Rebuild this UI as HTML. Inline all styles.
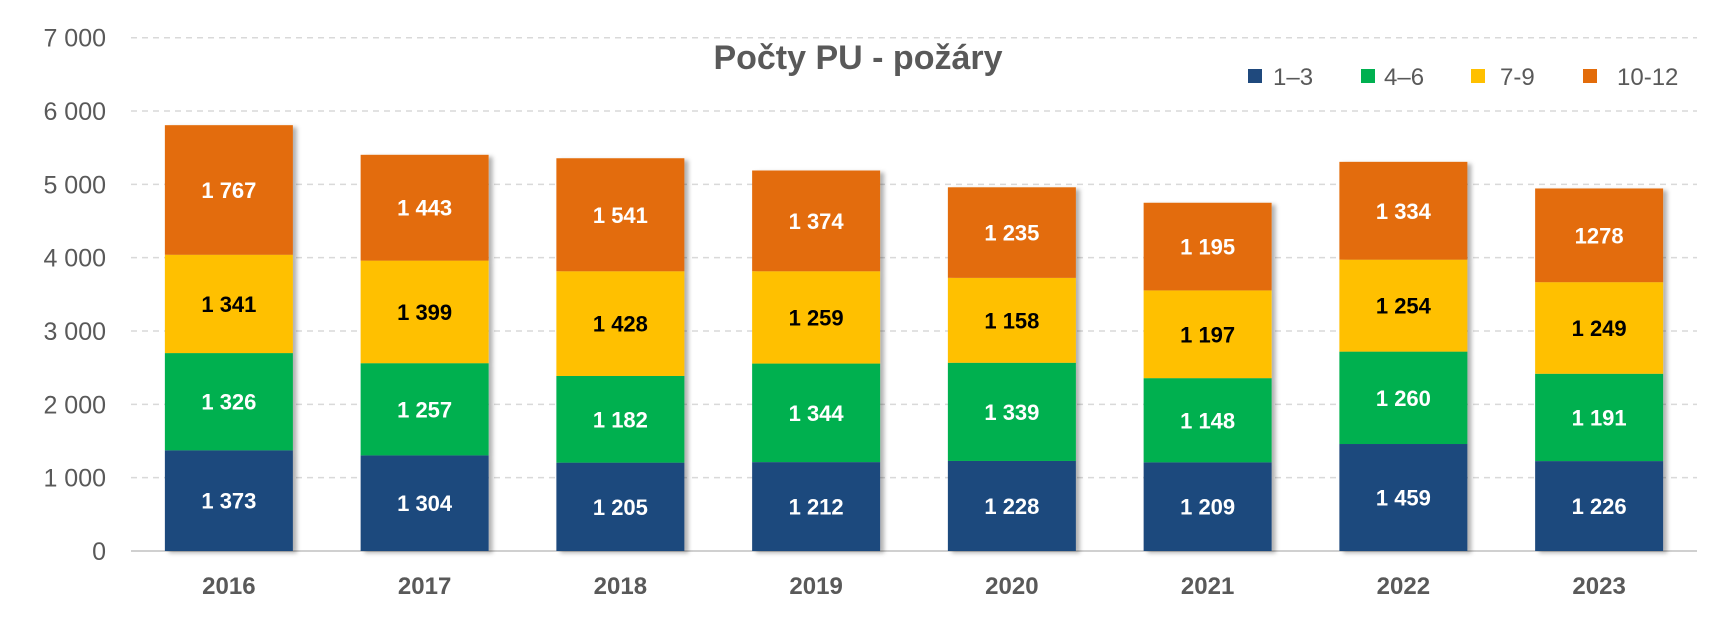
<!DOCTYPE html>
<html><head><meta charset="utf-8"><style>
html,body{margin:0;padding:0;background:#fff}
svg{display:block;font-family:"Liberation Sans",Arial,sans-serif}
</style></head><body>
<svg id="chart" width="1717" height="637" viewBox="0 0 1717 637">
<defs><filter id="sh" x="-10%" y="-5%" width="130%" height="110%"><feDropShadow dx="4" dy="2" stdDeviation="2" flood-color="#000" flood-opacity="0.3"/></filter></defs>
<g id="grid"></g><g id="bars"></g><g id="labels"></g>
<text x="858" y="69" text-anchor="middle" font-size="34" font-weight="bold" fill="#595959">Počty PU - požáry</text>
<g id="legend"></g>
</svg>
<script>
const categories = ["2016","2017","2018","2019","2020","2021","2022","2023"];
const q1 = [1373,1304,1205,1212,1228,1209,1459,1226];
const q2 = [1326,1257,1182,1344,1339,1148,1260,1191];
const q3 = [1341,1399,1428,1259,1158,1197,1254,1249];
const q4 = [1767,1443,1541,1374,1235,1195,1334,1278];
const q4Labels = ["1 767","1 443","1 541","1 374","1 235","1 195","1 334","1278"];
const seriesNames = ["1–3","4–6","7-9","10-12"];
const yTicks = [0,1000,2000,3000,4000,5000,6000,7000];

const NS="http://www.w3.org/2000/svg";
const colors=["#1F497D","#00B050","#FFC000","#E36C0A"];
const txtCol=["#fff","#fff","#000","#fff"];
const x0=131,x1=1697,yBase=551,yTop=37.7,yMax=7000;
const y=v=>yBase-(v/yMax)*(yBase-yTop);
const band=(x1-x0)/categories.length;
const xc=i=>x0+band*(i+0.5);
const bw=128;
function mk(tag,attrs,parent){const e=document.createElementNS(NS,tag);for(const k in attrs)e.setAttribute(k,attrs[k]);parent.appendChild(e);return e;}
const fmt=v=>{const s=String(v);return s.length>3?s.slice(0,-3)+" "+s.slice(-3):s;};
const grid=document.getElementById('grid');
yTicks.forEach(t=>{
  const l=mk('line',{x1:x0,x2:x1,y1:y(t),y2:y(t),stroke:t===0?'#d0d0d0':'#d9d9d9','stroke-width':t===0?2:1.5,'stroke-dasharray':t===0?'none':'6 5'},grid);
  
  
  const tx=mk('text',{x:106,y:y(t)+9,'text-anchor':'end','font-size':25,fill:'#595959'},grid);
  tx.textContent=fmt(t).replace(/^(\d) /,'$1 ');
  
  
});
const bars=document.getElementById('bars'),labels=document.getElementById('labels');
const series=[q1,q2,q3,q4];
categories.forEach((c,i)=>{
  let cum=0;
  const g=mk('g',{filter:'url(#sh)'},bars);
  
  
  series.forEach((s,k)=>{
    const v=s[i];
    const r=mk('rect',{x:xc(i)-bw/2,y:y(cum+v),width:bw,height:y(cum)-y(cum+v),fill:colors[k]},g);
    
    
    const t=mk('text',{x:xc(i),y:(y(cum)+y(cum+v))/2+8,'text-anchor':'middle','font-size':22,'font-weight':'bold',fill:txtCol[k]},labels);
    t.textContent=k===3?q4Labels[i]:fmt(v);
    
    
    cum+=v;
  });
  const xl=mk('text',{x:xc(i),y:594,'text-anchor':'middle','font-size':24,'font-weight':'bold',fill:'#595959'},labels);
  xl.textContent=c;
  
  
});
const leg=document.getElementById('legend');
const lsq=[1248,1361,1471,1583],ltx=[1273,1384,1500,1617];
seriesNames.forEach((n,k)=>{
  const g=mk('g',{},leg);
  
  
  mk('rect',{x:lsq[k],y:69,width:14,height:14,fill:colors[k]},g);
  const t=mk('text',{x:ltx[k],y:85,'font-size':24,fill:'#595959'},g);
  t.textContent=n;
});
</script>
</body></html>
